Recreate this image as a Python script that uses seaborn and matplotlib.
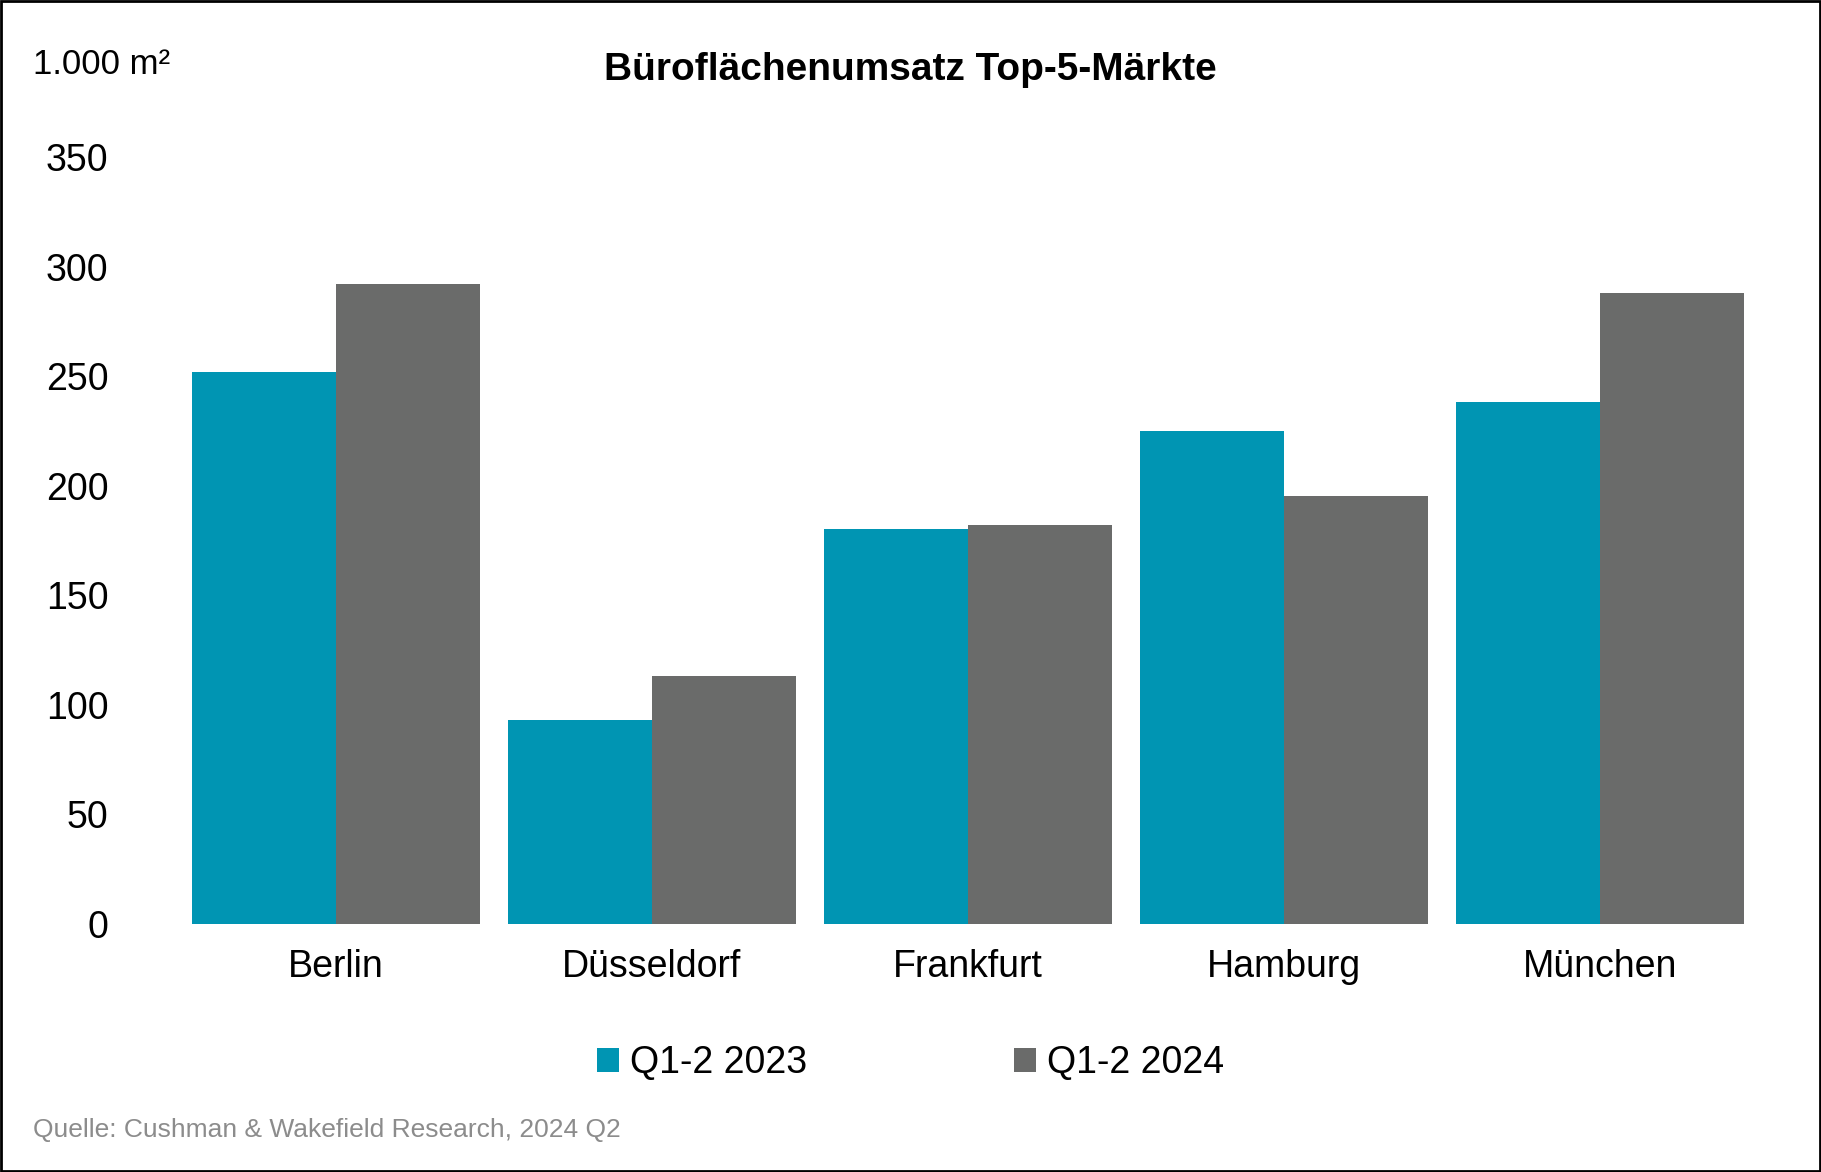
import matplotlib
matplotlib.use("Agg")
import matplotlib.pyplot as plt
import seaborn as sns
import pandas as pd
from matplotlib.patches import Patch, Rectangle

cities = ["Berlin", "Düsseldorf", "Frankfurt", "Hamburg", "München"]
series_names = ["Q1-2 2023", "Q1-2 2024"]
values_2023 = [252, 93, 180, 225, 238]
values_2024 = [292, 113, 182, 195, 288]
yticks = [0, 50, 100, 150, 200, 250, 300, 350]
colors = ["#0095B3", "#6A6B6A"]

df = pd.DataFrame({
    "city": cities * 2,
    "period": [series_names[0]] * 5 + [series_names[1]] * 5,
    "value": values_2023 + values_2024,
})

plt.rcParams["font.family"] = "Liberation Sans"
fig = plt.figure(figsize=(18.21, 11.72), dpi=100)
ax = fig.add_axes([0.0976, 0.212, 0.868, 0.654])
sns.barplot(data=df, x="city", y="value", hue="period", palette=colors,
            width=0.91, gap=0, saturation=1, ax=ax, legend=False)
ax.set_ylim(0, 350)
ax.set_yticks(yticks)
ax.set_xlabel("")
ax.set_ylabel("")
for s in ax.spines.values():
    s.set_visible(False)
ax.tick_params(axis="both", length=0, labelsize=27)
ax.tick_params(axis="y", pad=50)
ax.tick_params(axis="x", pad=18)

fig.text(0.5, 0.94, "Büroflächenumsatz Top-5-Märkte", ha="center", va="center",
         fontsize=28, fontweight="bold")
fig.text(0.018, 0.945, "1.000 m²", ha="left", va="center", fontsize=25)
fig.text(0.018, 0.036, "Quelle: Cushman & Wakefield Research, 2024 Q2", ha="left",
         va="center", fontsize=19, color="#8C8C8C")

handles = [Patch(facecolor=c, label=n) for c, n in zip(colors, series_names)]
fig.legend(handles=handles, loc="center", bbox_to_anchor=(0.5, 0.093), ncol=2,
           frameon=False, fontsize=27, handlelength=0.6, handleheight=0.6,
           handletextpad=0.3, columnspacing=5.5)

fig.patches.append(Rectangle((0.0005, 0.0008), 0.999, 0.998, transform=fig.transFigure,
                             fill=False, edgecolor="black", linewidth=2))
fig.savefig("out.png", dpi=100)
